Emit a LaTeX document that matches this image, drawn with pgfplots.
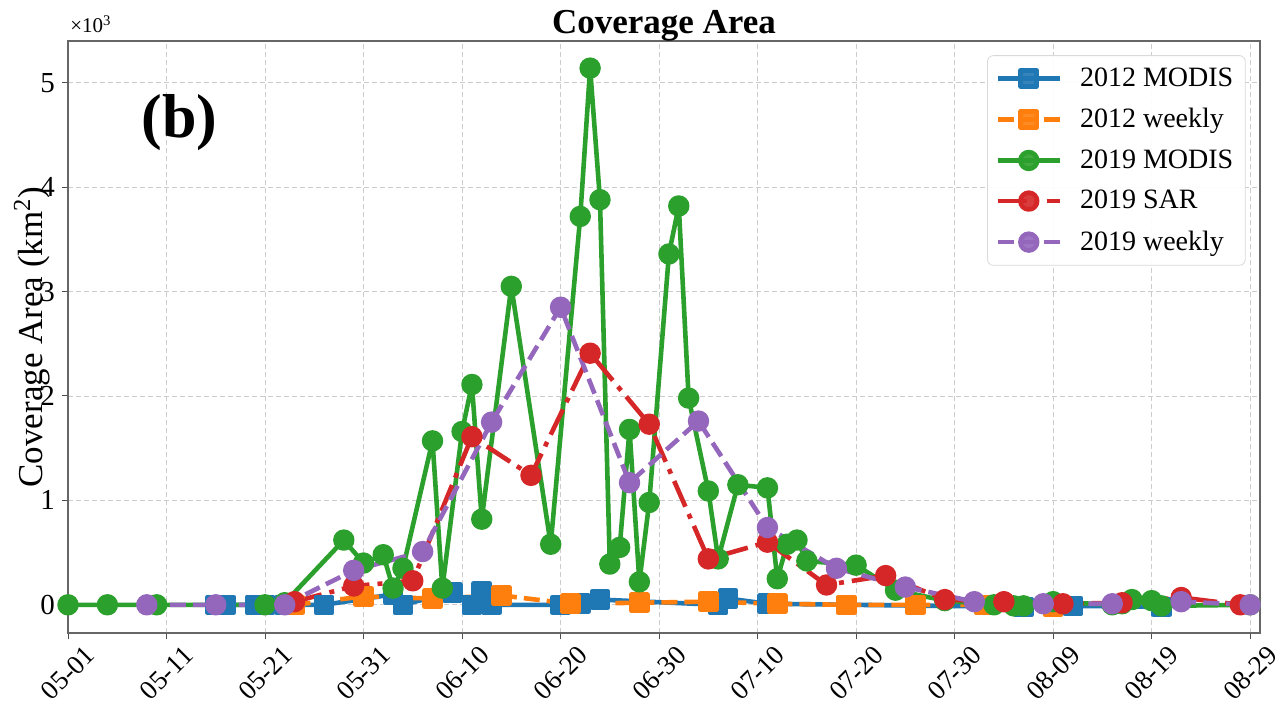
\documentclass[border=0pt]{standalone}
\usepackage{pgfplots}
\pgfplotsset{compat=1.18}
\usepackage{fontspec}
\setmainfont{Liberation Serif}
\definecolor{c0}{HTML}{1F77B4}
\definecolor{c1}{HTML}{FF7F0E}
\definecolor{c2}{HTML}{2CA02C}
\definecolor{c3}{HTML}{D62728}
\definecolor{c4}{HTML}{9467BD}
\begin{document}
\begin{tikzpicture}
\path[use as bounding box] (0,0) rectangle (642.5pt,351.5pt);
\begin{axis}[
  name=ax,
  at={(34pt,35pt)}, anchor=south west,
  scale only axis, width=596pt, height=296pt,
  xmin=0, xmax=121, ymin=-0.27, ymax=5.40,
  xtick={0,10,...,120},
  xticklabels={05-01,05-11,05-21,05-31,06-10,06-20,06-30,07-10,07-20,07-30,08-09,08-19,08-29},
  ytick={0,1,2,3,4,5},
  xtick pos=bottom, ytick pos=left,
  tick align=outside, major tick length=3pt,
  tick style={black!70, line width=0.5pt},
  axis line style={black!60, line width=0.6pt},
  /pgf/number format/assume math mode=true,
  ticklabel style={font=\fontsize{13.5}{15}\selectfont},
  yticklabel style={font=\fontsize{14.5}{16}\selectfont},
  xticklabel style={yshift=-17pt, rotate=45, anchor=center, inner sep=0pt},
  grid=major,
  major grid style={gray!40, dash pattern=on 2.5pt off 1.5pt, line width=0.4pt},
  title={\textbf{Coverage Area}},
  title style={at={(0.5,1)}, anchor=base, yshift=-2.5pt, font=\fontsize{17.5}{20}\selectfont},
  ylabel={Coverage Area (km\textsuperscript{2})},
  ylabel style={at={(axis description cs:-0.0302,0.5)}, anchor=center, font=\fontsize{17.5}{20}\selectfont},
  legend style={at={(0.988,0.976)}, anchor=north east, draw=gray!30, rounded corners=3pt,
    font=\fontsize{14}{16}\selectfont, row sep=5.5pt, inner sep=4pt, fill=white, fill opacity=0.9, text opacity=1},
  legend cell align=left,
  legend image code/.code={\draw[mark repeat=2,mark phase=2] plot coordinates {(0pt,0pt) (15.5pt,0pt) (31pt,0pt)}; \path (38pt,0pt);},
  every axis plot/.append style={line width=2.3pt, line join=round},
]
\addplot[c0, mark=square*, mark size=4pt, mark options={solid}] coordinates {
(15,0)(16,0)(19,0)(20,0)(22,0)(26,0)(33,0.1)(34,0)(39,0.12)(41,0)(42,0.13)(43,0)(50,0)(52,0.01)(54,0.05)(66,0)(67,0.06)(71,0.01)(97,-0.02)(102,-0.01)(111,-0.02)};
\addlegendentry{2012 MODIS}
\addplot[c1, dash pattern=on 8pt off 3.5pt, mark=square*, mark size=4pt, mark options={solid}] coordinates {
(23,0)(30,0.08)(37,0.06)(44,0.09)(51,0.01)(58,0.02)(65,0.03)(72,0.01)(79,0)(86,0)(93,0)(100,-0.02)};
\addlegendentry{2012 weekly}
\addplot[c2, mark=*, mark size=4.2pt, mark options={solid}] coordinates {
(0,0)(4,0)(9,0)(20,0)(22,0.02)(28,0.62)(30,0.40)(32,0.48)(33,0.16)(34,0.35)(37,1.57)(38,0.16)(40,1.66)(41,2.11)(42,0.82)(45,3.05)(49,0.58)(52,3.72)(53,5.14)(54,3.88)(55,0.39)(56,0.55)(57,1.68)(58,0.22)(59,0.98)(61,3.36)(62,3.82)(63,1.98)(65,1.09)(66,0.44)(68,1.15)(71,1.12)(72,0.25)(73,0.58)(74,0.62)(75,0.42)(80,0.38)(84,0.14)(89,0.04)(94,0.0)(96,-0.01)(97,-0.01)(100,0.03)(106,0.0)(107,0.01)(108,0.05)(110,0.04)(111,-0.01)(120,0)};
\addlegendentry{2019 MODIS}
\addplot[c3, dash pattern=on 14pt off 4pt on 2.5pt off 4pt, mark=*, mark size=4.2pt, mark options={solid}] coordinates {
(23,0.03)(29,0.18)(35,0.23)(41,1.61)(47,1.24)(53,2.41)(59,1.73)(65,0.44)(71,0.60)(77,0.19)(83,0.28)(89,0.05)(95,0.03)(101,0.01)(107,0.02)(113,0.07)(119,0.0)};
\addlegendentry{2019 SAR}
\addplot[c4, dash pattern=on 8pt off 3.5pt, mark=*, mark size=4.2pt, mark options={solid}] coordinates {
(8,0)(15,0)(22,0)(29,0.33)(36,0.51)(43,1.75)(50,2.85)(57,1.17)(64,1.76)(71,0.74)(78,0.35)(85,0.17)(92,0.03)(99,0.01)(106,0.01)(113,0.03)(120,0)};
\addlegendentry{2019 weekly}
\node[font=\fontsize{31}{34}\selectfont\bfseries] at (axis cs:11.3,4.62) {(b)};
\end{axis}
\node[anchor=base west, inner sep=0pt, font=\fontsize{10.5}{12}\selectfont] at ([xshift=1pt,yshift=4pt]ax.north west) {×10\textsuperscript{3}};
\end{tikzpicture}
\end{document}
